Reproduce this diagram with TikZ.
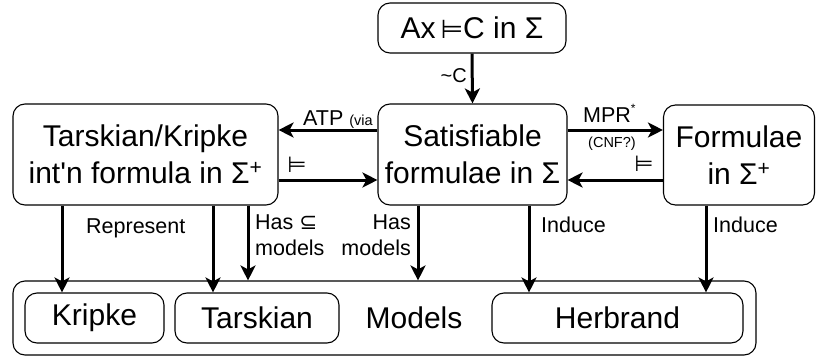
\documentclass[tikz,border=0pt]{standalone}
\usepackage{fontspec}
\setmainfont{Liberation Sans}[Ligatures=TeXOff]
\newfontfamily\dv{DejaVu Sans}
\usetikzlibrary{arrows.meta}
\begin{document}
\begin{tikzpicture}[x=1pt,y=-1pt,
  box/.style={draw, rounded corners=12pt, line width=1.1pt, align=center, inner sep=0pt, font=\fontsize{30}{37}\selectfont},
  arr/.style={line width=3pt, -{Stealth[length=15pt,width=15pt,inset=4pt]}},
  lbl/.style={inner sep=0pt, font=\fontsize{21.5}{26}\selectfont},
  small/.style={inner sep=0pt, font=\fontsize{14.5}{15}\selectfont},
  ent/.style={inner sep=0pt, font=\dv\fontsize{22}{22}\selectfont}]
\useasboundingbox (0,0) rectangle (816,356);
% nodes
\node[box, minimum width=188pt, minimum height=50pt] (top) at (472,28) {Ax\,{\dv\fontsize{26}{26}\selectfont ⊨}C in Σ};
\node[box, minimum width=265pt, minimum height=101pt] (tk) at (145.5,154.5) {Tarskian/Kripke\\int'n formula in Σ\textsuperscript{+}};
\node[box, minimum width=189pt, minimum height=101pt] (sat) at (472.5,154.5) {Satisfiable\\formulae in Σ};
\node[box, minimum width=151pt, minimum height=100pt] (form) at (739,155) {Formulae\\in Σ\textsuperscript{+}};
\node[box, minimum width=743pt, minimum height=74pt] (models) at (384.5,318) {};
\node[box, minimum width=139pt, minimum height=50pt] (kripke) at (94.5,318) {Kripke};
\node[box, minimum width=164pt, minimum height=50pt] (tarsk) at (257,318) {Tarskian};
\node[box, minimum width=251pt, minimum height=50pt] (herb) at (617.5,318) {Herbrand};
\node[inner sep=0pt, font=\fontsize{30}{37}\selectfont] (modlbl) at (414,318) {Models};
% connectors
\draw[arr] (top.south) -- (sat.north);
\draw[arr] (sat.west |- 0,130) -- (tk.east |- 0,130);
\draw[arr] (tk.east |- 0,180) -- (sat.west |- 0,180);
\draw[arr] (sat.east |- 0,130) -- (form.west |- 0,130);
\draw[arr] (form.west |- 0,180) -- (sat.east |- 0,180);
\draw[arr] (tk.south -| 62,0) -- (kripke.north -| 62,0);
\draw[arr] (tk.south -| 213,0) -- (tarsk.north -| 213,0);
\draw[arr] (tk.south -| 248,0) -- (models.north -| 248,0);
\draw[arr] (sat.south -| 418,0) -- (models.north -| 418,0);
\draw[arr] (sat.south -| 529,0) -- (herb.north -| 529,0);
\draw[arr] (form.south -| 706,0) -- (herb.north -| 706,0);
% labels
\node[lbl, anchor=base east, font=\fontsize{20}{24}\selectfont] (lc) at (467,82) {{\char"007E}C};
\node[lbl, anchor=base west] (latp) at (303,125) {ATP {\fontsize{14.5}{15}\selectfont(via}};
\node[ent] (le1) at (297,165) {⊨};
\node[lbl, anchor=base west] (lmpr) at (583,122) {MPR\raisebox{10pt}{\fontsize{12}{12}\selectfont *}};
\node[small, anchor=base west] (lcnf) at (588,147) {(CNF?)};
\node[ent] (le2) at (644,164) {⊨};
\node[lbl, anchor=base west] (lrep) at (86,233) {Represent};
\node[lbl, anchor=west, align=left] (lhs) at (255,235) {Has {\dv ⊆}\\models};
\node[lbl, anchor=east, align=right] (lhm) at (411,235) {Has\\models};
\node[lbl, anchor=base west] (lin1) at (541,232) {Induce};
\node[lbl, anchor=base west] (lin2) at (713,232) {Induce};
\end{tikzpicture}
\end{document}
